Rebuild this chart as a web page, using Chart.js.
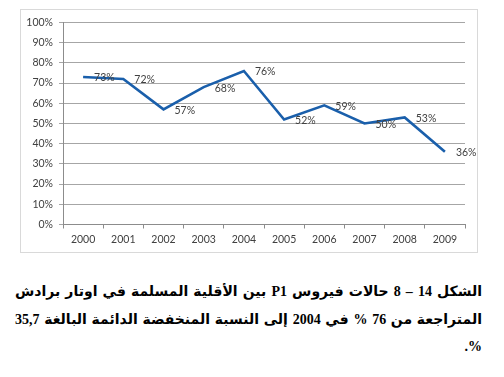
<!DOCTYPE html>
<html>
<head>
<meta charset="utf-8">
<script src="https://cdn.jsdelivr.net/npm/chart.js@4"></script>
<style>
  html, body { margin: 0; padding: 0; background: #fff; }
  body { width: 504px; height: 377px; position: relative; overflow: hidden; }
  #box { position: absolute; left: 20px; top: 9px; width: 458px; height: 244px;
         box-sizing: border-box; border: 1px solid #d9d9d9; }
  #wrap { position: absolute; left: 21px; top: 10px; width: 456px; height: 242px; }
  #caption { position: absolute; left: 15px; top: 278px; width: 467px;
             direction: rtl; font-family: "Liberation Serif", "DejaVu Sans", serif;
             font-weight: bold; font-size: 16px; color: #000; }
  #caption div { height: 27.5px; line-height: 27.5px; white-space: nowrap; }
  #caption.ready .j { text-align: justify; text-align-last: justify; }
</style>
</head>
<body>
<div id="box"></div>
<div id="wrap"><canvas id="chart"></canvas></div>
<div id="caption">
  <div class="j"><span>الشكل 14 – 8 حالات فيروس P1 بين الأقلية المسلمة في اوتار برادش</span></div>
  <div class="j"><span>المتراجعة من 76 % في 2004 إلى النسبة المنخفضة الدائمة البالغة 35,7</span></div>
  <div>%.</div>
</div>
<script>
const years = ['2000', '2001', '2002', '2003', '2004', '2005', '2006', '2007', '2008', '2009'];
const cases = [73, 72, 57, 68, 76, 52, 59, 50, 53, 36];
const yTicks = [0, 10, 20, 30, 40, 50, 60, 70, 80, 90, 100];

// shrink caption font until both full lines fit (measured before justifying)
const cap = document.getElementById('caption');
const spans = Array.from(cap.querySelectorAll('span'));
let fs = 17;
cap.style.fontSize = fs + 'px';
while (fs > 10 && spans.some(s => s.getBoundingClientRect().width > 460)) {
  fs -= 0.25;
  cap.style.fontSize = fs + 'px';
}
cap.classList.add('ready');

Chart.defaults.font.family = 'Lato';
Chart.defaults.font.size = 10.5;
Chart.defaults.color = '#404040';
Chart.defaults.plugins.legend.display = false;

// value labels to the right of each point, like the Excel chart
const pointLabels = {
  id: 'pointLabels',
  afterDatasetsDraw(chart) {
    const ctx = chart.ctx;
    const meta = chart.getDatasetMeta(0);
    ctx.save();
    ctx.font = '10.5px Lato';
    ctx.fillStyle = '#404040';
    ctx.textAlign = 'left';
    ctx.textBaseline = 'middle';
    meta.data.forEach((pt, i) => {
      ctx.fillText(cases[i] + '%', pt.x + 11, pt.y + 1);
    });
    ctx.restore();
  }
};

const data = {
  labels: years,
  datasets: [{
    data: cases,
    borderColor: '#1a5fab',
    borderWidth: 2.6,
    pointRadius: 0,
    tension: 0,
    fill: false
  }]
};

const config = {
  type: 'line',
  data: data,
  options: {
    responsive: true,
    maintainAspectRatio: false,
    animation: false,
    layout: { padding: { top: 12.5, right: 12, left: 0, bottom: 0 } },
    plugins: { tooltip: { enabled: false } },
    scales: {
      x: {
        offset: true,
        grid: { offset: true, drawOnChartArea: false, color: '#8c8c8c', tickLength: 4 },
        border: { color: '#8c8c8c' },
        ticks: { padding: 5, maxRotation: 0 },
        afterFit: s => { s.height = 27.5; }
      },
      y: {
        min: 0,
        max: 100,
        afterBuildTicks: s => { s.ticks = yTicks.map(v => ({ value: v })); },
        grid: { color: '#a6a6a6', tickLength: 4 },
        border: { color: '#8c8c8c' },
        ticks: { padding: 6, callback: v => v + '%' },
        afterFit: s => { s.width = 42; }
      }
    }
  },
  plugins: [pointLabels]
};

new Chart(document.getElementById('chart'), config);
</script>
</body>
</html>
